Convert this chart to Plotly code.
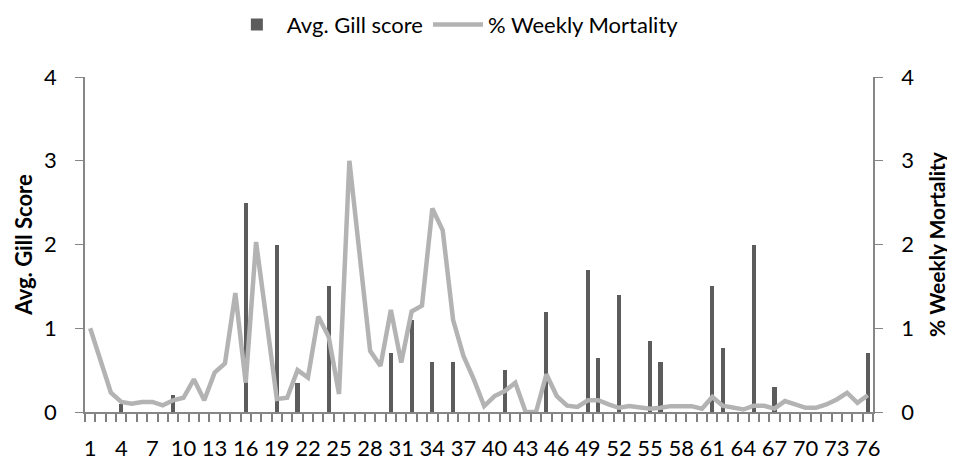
import plotly.graph_objects as go

weeks = list(range(1, 77))

gill_score = [
    0, 0, 0, 0.1, 0, 0, 0, 0, 0.2, 0,
    0, 0, 0, 0, 0, 2.5, 0, 0, 2.0, 0,
    0.35, 0, 0, 1.5, 0, 0, 0, 0, 0, 0.7,
    0, 1.1, 0, 0.6, 0, 0.6, 0, 0, 0, 0,
    0.5, 0, 0, 0, 1.2, 0, 0, 0, 1.7, 0.65,
    0, 1.4, 0, 0, 0.85, 0.6, 0, 0, 0, 0,
    1.5, 0.77, 0, 0, 2.0, 0, 0.3, 0, 0, 0,
    0, 0, 0, 0, 0, 0.7,
]

weekly_mortality = [
    1.0, 0.62, 0.23, 0.12, 0.10, 0.12, 0.12, 0.08, 0.14, 0.17,
    0.39, 0.14, 0.47, 0.58, 1.42, 0.35, 2.03, 1.1, 0.155, 0.17,
    0.5, 0.41, 1.14, 0.9, 0.215, 3.0, 1.85, 0.73, 0.55, 1.22,
    0.59, 1.2, 1.27, 2.43, 2.17, 1.1, 0.67, 0.39, 0.07, 0.19,
    0.25, 0.35, 0.0, 0.0, 0.45, 0.19, 0.075, 0.06, 0.14, 0.14,
    0.09, 0.05, 0.07, 0.05, 0.04, 0.05, 0.07, 0.07, 0.07, 0.04,
    0.18, 0.075, 0.05, 0.03, 0.075, 0.075, 0.04, 0.13, 0.09, 0.05,
    0.05, 0.09, 0.15, 0.23, 0.11, 0.2,
]

x_tick_labels = [w for w in weeks if (w - 1) % 3 == 0]
y_ticks = [0, 1, 2, 3, 4]

FONT = "Lato"
AXIS_COLOR = "#868686"
X_RANGE = [0.5, len(weeks) + 0.5]

fig = go.Figure()
fig.add_trace(go.Bar(
    x=weeks, y=[v if v > 0 else None for v in gill_score],
    name="Avg. Gill score", marker=dict(color="#5c5c5c", line=dict(width=0)),
    width=0.4, xaxis="x", yaxis="y",
))
fig.add_trace(go.Scatter(
    x=weeks, y=weekly_mortality, name="% Weekly Mortality", mode="lines",
    line=dict(color="#b3b3b3", width=4.5), xaxis="x2", yaxis="y2",
))

# page body has an 8px margin, so the figure is sized/offset to compensate
fig.update_layout(
    width=947, height=454,
    margin=dict(l=77, r=82, t=69, b=50, autoexpand=False),
    paper_bgcolor="white", plot_bgcolor="white",
    font=dict(family=FONT, size=22, color="black"),
    showlegend=True,
    legend=dict(orientation="h", x=0.47, xanchor="center", y=1.156, yanchor="middle",
                font=dict(size=22), itemwidth=50, traceorder="normal"),
    bargap=0,
    # boundary ticks, no labels
    xaxis=dict(
        range=X_RANGE, tickmode="linear", tick0=0.5, dtick=1, showticklabels=False,
        showline=True, linecolor=AXIS_COLOR, linewidth=1.5,
        ticks="outside", ticklen=8, tickcolor="#808080", tickwidth=1.5,
        showgrid=False, zeroline=False,
    ),
    # labels every third week
    xaxis2=dict(
        range=X_RANGE, overlaying="x", anchor="y", side="bottom",
        tickmode="array", tickvals=x_tick_labels,
        ticktext=[str(v) for v in x_tick_labels], tickangle=0,
        ticks="", showline=False, showgrid=False, zeroline=False,
        ticklabelstandoff=21, tickfont=dict(size=22),
    ),
    yaxis=dict(
        range=[0, 4], tickmode="array", tickvals=y_ticks,
        showline=True, linecolor=AXIS_COLOR, linewidth=1.5,
        ticks="outside", ticklen=8, tickcolor=AXIS_COLOR,
        ticklabelstandoff=14,
        showgrid=False, zeroline=False, tickfont=dict(size=22),
        title=dict(text="<b>Avg. Gill Score</b>", font=dict(size=22), standoff=5),
    ),
    yaxis2=dict(
        range=[0, 4], tickmode="array", tickvals=y_ticks, overlaying="y", side="right",
        anchor="x",
        showline=True, linecolor=AXIS_COLOR, linewidth=1.5,
        ticks="outside", ticklen=8, tickcolor=AXIS_COLOR,
        ticklabelstandoff=14,
        showgrid=False, zeroline=False, tickfont=dict(size=22),
        title=dict(text="<b>% Weekly Mortality</b>", font=dict(size=21), standoff=17),
    ),
)

fig.write_html("out.html")
